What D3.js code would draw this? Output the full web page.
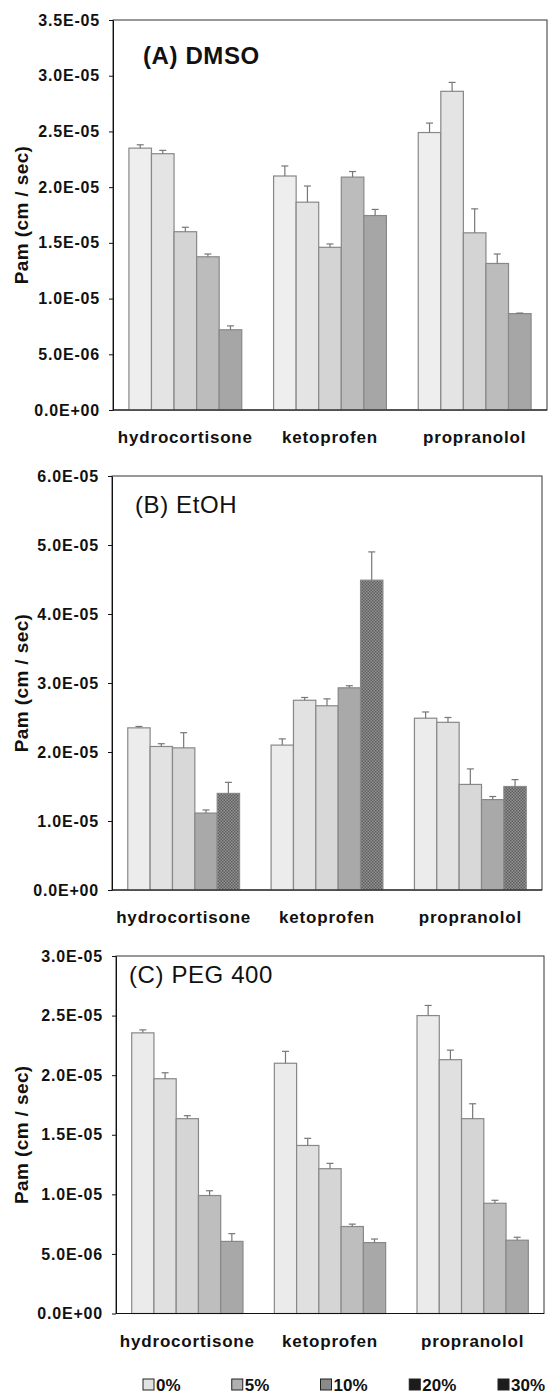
<!DOCTYPE html>
<html>
<head>
<meta charset="utf-8">
<script src="https://cdn.jsdelivr.net/npm/d3@7"></script>
<style>
  body { margin: 0; background: #fff; }
  svg text { font-family: "Liberation Sans", Arial, sans-serif; fill: #111; }
</style>
</head>
<body>
<div id="chart"></div>
<script>
// values (cm / sec)
var drugs = ["hydrocortisone", "ketoprofen", "propranolol"];
var concentrations = ["0%", "5%", "10%", "20%", "30%"];

var dmsoMean = [
  [2.35e-5, 2.30e-5, 1.60e-5, 1.375e-5, 0.72e-5],
  [2.10e-5, 1.865e-5, 1.46e-5, 2.09e-5, 1.745e-5],
  [2.49e-5, 2.86e-5, 1.59e-5, 1.315e-5, 0.865e-5]
];
var dmsoErr = [
  [0.03e-5, 0.03e-5, 0.04e-5, 0.025e-5, 0.035e-5],
  [0.09e-5, 0.145e-5, 0.03e-5, 0.05e-5, 0.055e-5],
  [0.085e-5, 0.08e-5, 0.215e-5, 0.085e-5, 0.005e-5]
];

var etohMean = [
  [2.35e-5, 2.08e-5, 2.06e-5, 1.115e-5, 1.40e-5],
  [2.10e-5, 2.75e-5, 2.67e-5, 2.93e-5, 4.49e-5],
  [2.49e-5, 2.43e-5, 1.53e-5, 1.31e-5, 1.50e-5]
];
var etohErr = [
  [0.02e-5, 0.04e-5, 0.22e-5, 0.045e-5, 0.16e-5],
  [0.09e-5, 0.04e-5, 0.10e-5, 0.03e-5, 0.41e-5],
  [0.09e-5, 0.07e-5, 0.225e-5, 0.045e-5, 0.10e-5]
];

var pegMean = [
  [2.355e-5, 1.97e-5, 1.635e-5, 0.99e-5, 0.605e-5],
  [2.10e-5, 1.41e-5, 1.215e-5, 0.73e-5, 0.595e-5],
  [2.50e-5, 2.13e-5, 1.635e-5, 0.925e-5, 0.615e-5]
];
var pegErr = [
  [0.025e-5, 0.05e-5, 0.025e-5, 0.04e-5, 0.065e-5],
  [0.10e-5, 0.06e-5, 0.045e-5, 0.02e-5, 0.03e-5],
  [0.085e-5, 0.08e-5, 0.125e-5, 0.025e-5, 0.025e-5]
];

var ticksA = [0, 5e-6, 1e-5, 1.5e-5, 2e-5, 2.5e-5, 3e-5, 3.5e-5];
var ticksB = [0, 1e-5, 2e-5, 3e-5, 4e-5, 5e-5, 6e-5];
var ticksC = [0, 5e-6, 1e-5, 1.5e-5, 2e-5, 2.5e-5, 3e-5];

// styles
var fillA = ["#eeeeee", "#e4e4e4", "#d4d4d4", "#bcbcbc", "#a6a6a6"];
var fillB = ["#ececec", "#e2e2e2", "#d8d8d8", "#a9a9a9", "url(#hatch)"];
var fillC = ["#ebebeb", "#e0e0e0", "#d5d5d5", "#bebebe", "#a8a8a8"];
var legendFill = ["#e2e2e2", "#b0b0b0", "#8a8a8a", "#1c1c1c", "#1c1c1c"];

var svgWidth = 548;
var svgHeight = 1397;

var svg = d3.select("#chart")
  .append("svg")
  .attr("width", svgWidth)
  .attr("height", svgHeight);

var pat = svg.append("defs").append("pattern")
  .attr("id", "hatch")
  .attr("width", 3)
  .attr("height", 3)
  .attr("patternUnits", "userSpaceOnUse");
pat.append("rect").attr("width", 3).attr("height", 3).attr("fill", "#929292");
pat.append("rect").attr("width", 1.5).attr("height", 1.5).attr("fill", "#5e5e5e");
pat.append("rect").attr("x", 1.5).attr("y", 1.5).attr("width", 1.5).attr("height", 1.5).attr("fill", "#5e5e5e");

function sciFormat(v) {
  var parts = v.toExponential(1).split("e");
  var e = +parts[1];
  return parts[0] + "E" + (e < 0 ? "-" : "+") + (Math.abs(e) < 10 ? "0" : "") + Math.abs(e);
}

var panels = [
  { title: "(A) DMSO", mean: dmsoMean, err: dmsoErr, ticks: ticksA, fill: fillA,
    left: 113, right: 547, top: 20, bottom: 410, titleX: 143, titleY: 64, titleWeight: "bold" },
  { title: "(B) EtOH", mean: etohMean, err: etohErr, ticks: ticksB, fill: fillB,
    left: 112, right: 542, top: 476, bottom: 890, titleX: 135, titleY: 513, titleWeight: "normal" },
  { title: "(C) PEG 400", mean: pegMean, err: pegErr, ticks: ticksC, fill: fillC,
    left: 116, right: 544, top: 956, bottom: 1313.5, titleX: 129, titleY: 983, titleWeight: "normal" }
];

panels.forEach(function(p) {
  var g = svg.append("g");

  var x0 = d3.scaleBand()
    .domain(drugs)
    .range([p.left, p.right])
    .paddingInner(0.22)
    .paddingOuter(0.11);

  var x1 = d3.scaleBand()
    .domain(concentrations)
    .range([0, x0.bandwidth()]);

  var y = d3.scaleLinear()
    .domain([0, d3.max(p.ticks)])
    .range([p.bottom, p.top]);

  // frame
  g.append("rect")
    .attr("x", p.left)
    .attr("y", p.top)
    .attr("width", p.right - p.left)
    .attr("height", p.bottom - p.top)
    .attr("fill", "none")
    .attr("stroke", "#333")
    .attr("stroke-width", 1);

  var rows = [];
  drugs.forEach(function(d, i) {
    concentrations.forEach(function(c, j) {
      rows.push({ drug: d, conc: c, j: j, mean: p.mean[i][j], err: p.err[i][j] });
    });
  });

  var bars = g.selectAll("g.bar")
    .data(rows)
    .enter()
    .append("g")
    .attr("class", "bar");

  bars.append("rect")
    .attr("x", d => x0(d.drug) + x1(d.conc))
    .attr("y", d => y(d.mean))
    .attr("width", x1.bandwidth())
    .attr("height", d => y(0) - y(d.mean))
    .attr("fill", d => p.fill[d.j])
    .attr("stroke", "#888")
    .attr("stroke-width", 1.2);

  // error bars (upper only)
  bars.append("line")
    .attr("x1", d => x0(d.drug) + x1(d.conc) + x1.bandwidth() / 2)
    .attr("x2", d => x0(d.drug) + x1(d.conc) + x1.bandwidth() / 2)
    .attr("y1", d => y(d.mean))
    .attr("y2", d => y(d.mean + d.err))
    .attr("stroke", "#777")
    .attr("stroke-width", 1.2);

  bars.append("line")
    .attr("x1", d => x0(d.drug) + x1(d.conc) + x1.bandwidth() / 2 - 3.5)
    .attr("x2", d => x0(d.drug) + x1(d.conc) + x1.bandwidth() / 2 + 3.5)
    .attr("y1", d => y(d.mean + d.err))
    .attr("y2", d => y(d.mean + d.err))
    .attr("stroke", "#777")
    .attr("stroke-width", 1.2);

  // y axis
  var yAxis = d3.axisLeft(y)
    .tickValues(p.ticks)
    .tickFormat(sciFormat)
    .tickSize(4)
    .tickSizeOuter(0)
    .tickPadding(9);

  var ya = g.append("g")
    .attr("transform", `translate(${p.left}, 0)`)
    .call(yAxis);
  ya.select(".domain").attr("stroke", "#111");
  ya.selectAll(".tick line").attr("stroke", "#111");
  ya.selectAll("text")
    .attr("font-size", 16)
    .attr("letter-spacing", "0.8px")
    .attr("font-family", "Liberation Sans, Arial, sans-serif")
    .style("font-weight", "bold")
    .attr("fill", "#111");

  // x axis line
  g.append("line")
    .attr("x1", p.left)
    .attr("x2", p.right)
    .attr("y1", y(0))
    .attr("y2", y(0))
    .attr("stroke", "#111")
    .attr("stroke-width", 1.2);

  // category labels
  g.selectAll("text.cat")
    .data(drugs)
    .enter()
    .append("text")
    .attr("class", "cat")
    .attr("x", d => x0(d) + x0.bandwidth() / 2)
    .attr("y", p.bottom + 33)
    .attr("text-anchor", "middle")
    .attr("font-size", 17)
    .attr("letter-spacing", "0.8px")
    .style("font-weight", "bold")
    .text(d => d);

  // y label
  g.append("text")
    .attr("transform", `translate(21, ${(p.top + p.bottom) / 2}) rotate(-90)`)
    .attr("text-anchor", "middle")
    .attr("dy", "0.35em")
    .attr("font-size", 19)
    .attr("letter-spacing", "0.4px")
    .style("font-weight", "bold")
    .text("Pam (cm / sec)");

  // panel title
  g.append("text")
    .attr("x", p.titleX)
    .attr("y", p.titleY)
    .attr("font-size", 24)
    .attr("letter-spacing", "0.6px")
    .style("font-weight", p.titleWeight)
    .text(p.title);
});

// legend
var legendX = d3.scalePoint()
  .domain(concentrations)
  .range([143, 498]);

var legend = svg.selectAll("g.legend")
  .data(concentrations)
  .enter()
  .append("g")
  .attr("class", "legend")
  .attr("transform", d => `translate(${legendX(d)}, 1379)`);

legend.append("rect")
  .attr("width", 11)
  .attr("height", 11)
  .attr("fill", (d, i) => legendFill[i])
  .attr("stroke", "#222")
  .attr("stroke-width", 1);

legend.append("text")
  .attr("x", 13)
  .attr("y", 11.5)
  .attr("font-size", 17)
  .style("font-weight", "bold")
  .text(d => d);
</script>
</body>
</html>
